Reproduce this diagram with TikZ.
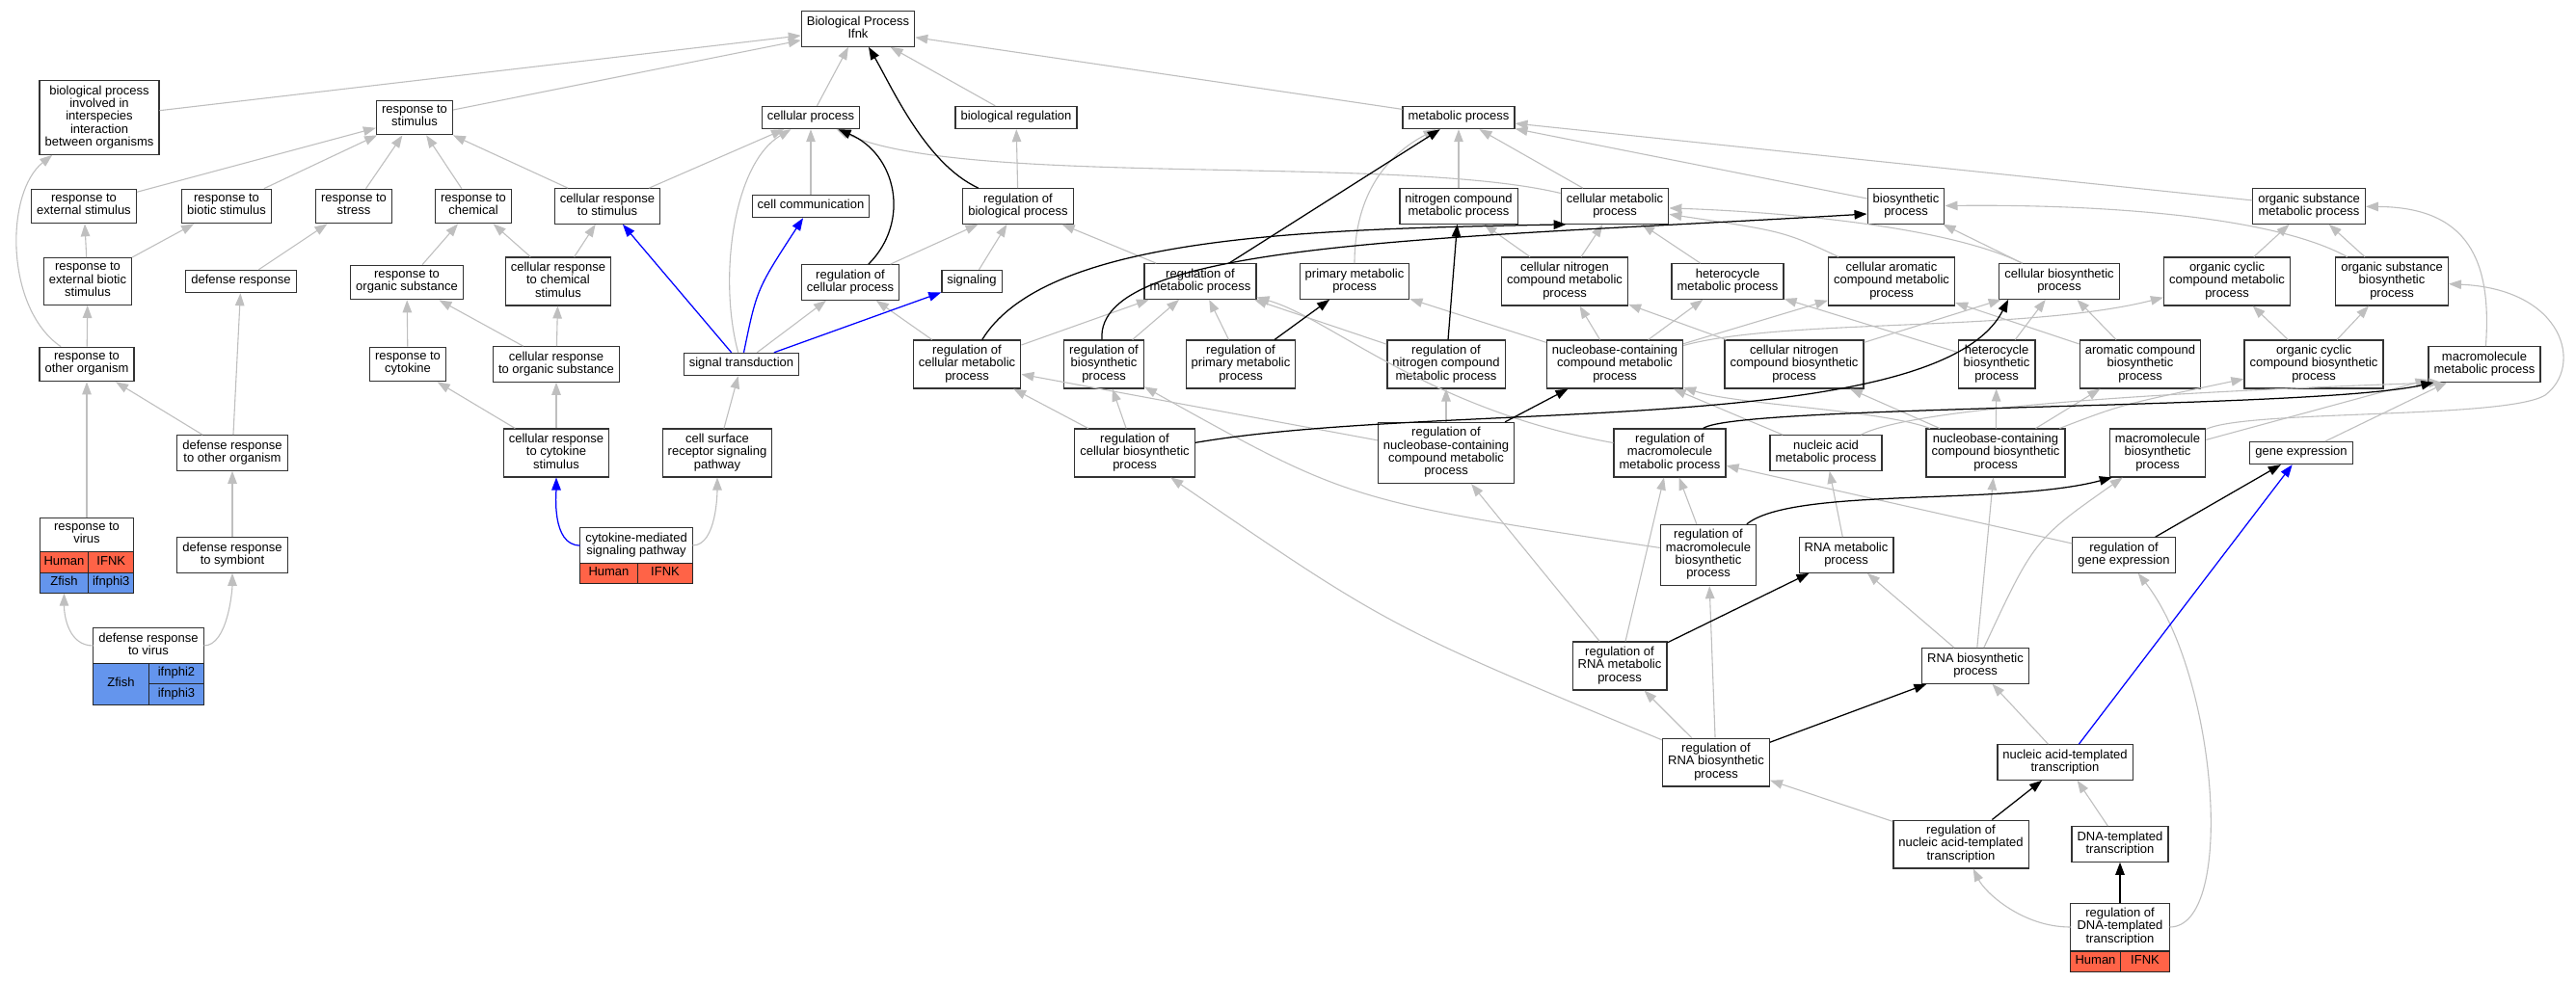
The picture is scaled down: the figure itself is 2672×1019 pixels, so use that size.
\documentclass[tikz,border=0pt]{standalone}
\usepackage{fontspec}
\setmainfont{Liberation Sans}
\usetikzlibrary{arrows.meta,positioning}
\definecolor{tomato}{HTML}{FF6347}
\definecolor{cornflower}{HTML}{6495ED}

\begin{document}
\begin{tikzpicture}[x=1pt,y=-1pt,>={Triangle[length=13pt,width=9.5pt]},
    term node/.style={rectangle,draw=black!80,line width=1.3pt,fill=white,align=center,
      font=\fontsize{13}{13.3}\selectfont,inner xsep=5.5pt,inner ysep=4.85pt,
      execute at begin node=\strut,execute at end node=\strut},
    gene cell/.style={rectangle,draw=black!85,line width=1.3pt,anchor=north west,
      font=\fontsize{13}{13.3}\selectfont,inner sep=0pt,outer sep=0pt,
      minimum height=21.5,execute at begin node=\strut},
    human cell/.style={gene cell,fill=tomato},
    zfish cell/.style={gene cell,fill=cornflower},
    gray edge/.style={->,color=black!25,line width=1.1pt},
    black edge/.style={->,color=black,line width=1.25pt},
    blue edge/.style={->,color=blue,line width=1.25pt}]

  \useasboundingbox (0,0) rectangle (2672,1019);

  \node[term node] (bp) at (890,30) {Biological Process\\Ifnk};
  \node[term node] (bpinter) at (103,122) {biological process\\involved in\\interspecies\\interaction\\between organisms};
  \node[term node] (rstim) at (430,122) {response to\\stimulus};
  \node[term node] (cellproc) at (841,122) {cellular process};
  \node[term node] (bioreg) at (1054,122) {biological regulation};
  \node[term node] (metproc) at (1513,122) {metabolic process};

  \node[term node] (rext) at (87,214) {response to\\external stimulus};
  \node[term node] (rbiot) at (235,214) {response to\\biotic stimulus};
  \node[term node] (rstress) at (367,214) {response to\\stress};
  \node[term node] (rchem) at (491,214) {response to\\chemical};
  \node[term node] (crstim) at (630,214) {cellular response\\to stimulus};
  \node[term node] (cellcomm) at (841,214) {cell communication};
  \node[term node] (regbio) at (1056,214) {regulation of\\biological process};
  \node[term node] (nitro) at (1513,214) {nitrogen compound\\metabolic process};
  \node[term node] (cellmet) at (1675,214) {cellular metabolic\\process};
  \node[term node] (biosyn) at (1977,214) {biosynthetic\\process};
  \node[term node] (orgsub) at (2395,214) {organic substance\\metabolic process};

  \node[term node] (rextbio) at (91,292) {response to\\external biotic\\stimulus};
  \node[term node] (defresp) at (250,292) {defense response};
  \node[term node] (rorgsub) at (422,293) {response to\\organic substance};
  \node[term node] (crchem) at (579,292) {cellular response\\to chemical\\stimulus};
  \node[term node] (regcell) at (882,293) {regulation of\\cellular process};
  \node[term node] (signaling) at (1008,292) {signaling};
  \node[term node] (regmet) at (1245,292) {regulation of\\metabolic process};
  \node[term node] (primmet) at (1405,292) {primary metabolic\\process};
  \node[term node] (cellnitro) at (1623,292) {cellular nitrogen\\compound metabolic\\process};
  \node[term node] (heteromet) at (1792,292) {heterocycle\\metabolic process};
  \node[term node] (cellarom) at (1962,292) {cellular aromatic\\compound metabolic\\process};
  \node[term node] (cellbio) at (2136,292) {cellular biosynthetic\\process};
  \node[term node] (orgcyc) at (2310,292) {organic cyclic\\compound metabolic\\process};
  \node[term node] (orgsubbio) at (2481,292) {organic substance\\biosynthetic\\process};

  \node[term node] (rother) at (90,378) {response to\\other organism};
  \node[term node] (rcyto) at (423,378) {response to\\cytokine};
  \node[term node] (crorg) at (577,378) {cellular response\\to organic substance};
  \node[term node] (sigtrans) at (769,378) {signal transduction};
  \node[term node] (regcellmet) at (1003,378) {regulation of\\cellular metabolic\\process};
  \node[term node] (regbiosyn) at (1145,378) {regulation of\\biosynthetic\\process};
  \node[term node] (regprim) at (1287,378) {regulation of\\primary metabolic\\process};
  \node[term node] (regnitro) at (1500,378) {regulation of\\nitrogen compound\\metabolic process};
  \node[term node] (nucmet) at (1675,378) {nucleobase-containing\\compound metabolic\\process};
  \node[term node] (cellnitrobio) at (1861,378) {cellular nitrogen\\compound biosynthetic\\process};
  \node[term node] (heterobio) at (2071,378) {heterocycle\\biosynthetic\\process};
  \node[term node] (arombio) at (2220,378) {aromatic compound\\biosynthetic\\process};
  \node[term node] (orgcycbio) at (2400,378) {organic cyclic\\compound biosynthetic\\process};
  \node[term node] (macromet) at (2577,378) {macromolecule\\metabolic process};

  \node[term node] (defother) at (241,470) {defense response\\to other organism};
  \node[term node] (crcyto) at (577,470) {cellular response\\to cytokine\\stimulus};
  \node[term node] (cellsurf) at (744,470) {cell surface\\receptor signaling\\pathway};
  \node[term node] (regcellbio) at (1177,470) {regulation of\\cellular biosynthetic\\process};
  \node[term node] (regnuc) at (1500,470) {regulation of\\nucleobase-containing\\compound metabolic\\process};
  \node[term node] (regmacro) at (1732,470) {regulation of\\macromolecule\\metabolic process};
  \node[term node] (nucacid) at (1894,470) {nucleic acid\\metabolic process};
  \node[term node] (nucbio) at (2070,470) {nucleobase-containing\\compound biosynthetic\\process};
  \node[term node] (macrobio) at (2238,470) {macromolecule\\biosynthetic\\process};
  \node[term node] (geneexp) at (2387,470) {gene expression};

  \node[term node,minimum width=97.5,outer sep=0pt] (rvirus) at (90,555) {response to\\virus};
  \node[human cell,minimum width=50.5] (rvirusH) at (rvirus.south west) {Human};
  \node[human cell,minimum width=47] (rvirusI) at (rvirusH.north east) {IFNK};
  \node[zfish cell,minimum width=50.5] (rvirusZ) at (rvirusH.south west) {Zfish};
  \node[zfish cell,minimum width=47] (rvirusG) at (rvirusZ.north east) {ifnphi3};

  \node[term node] (defsym) at (241,576) {defense response\\to symbiont};

  \node[term node,minimum width=117,outer sep=0pt] (cytomed) at (660,566) {cytokine-mediated\\signaling pathway};
  \node[human cell,minimum width=60] (cytomedH) at (cytomed.south west) {Human};
  \node[human cell,minimum width=57] (cytomedI) at (cytomedH.north east) {IFNK};

  \node[term node] (regmacrobio) at (1772,576) {regulation of\\macromolecule\\biosynthetic\\process};
  \node[term node] (rnamet) at (1915,576) {RNA metabolic\\process};
  \node[term node] (reggene) at (2203,576) {regulation of\\gene expression};

  \node[term node,minimum width=115,outer sep=0pt] (defvirus) at (154,670) {defense response\\to virus};
  \node[zfish cell,minimum width=58,minimum height=43] (defvirusZ) at (defvirus.south west) {Zfish};
  \node[zfish cell,minimum width=57] (defvirusA) at (defvirusZ.north east) {ifnphi2};
  \node[zfish cell,minimum width=57] (defvirusB) at (defvirusA.south west) {ifnphi3};

  \node[term node] (regrna) at (1680,691) {regulation of\\RNA metabolic\\process};
  \node[term node] (rnabio) at (2049,691) {RNA biosynthetic\\process};
  \node[term node] (nactrans) at (2142,791) {nucleic acid-templated\\transcription};
  \node[term node] (regrnabio) at (1780,791) {regulation of\\RNA biosynthetic\\process};
  \node[term node] (regnac) at (2034,876) {regulation of\\nucleic acid-templated\\transcription};
  \node[term node] (dnatrans) at (2199,876) {DNA-templated\\transcription};

  \node[term node,minimum width=103,outer sep=0pt] (regdna) at (2199,962) {regulation of\\DNA-templated\\transcription};
  \node[human cell,minimum width=52] (regdnaH) at (regdna.south west) {Human};
  \node[human cell,minimum width=51] (regdnaI) at (regdnaH.north east) {IFNK};

  \path[gray edge]
    (bpinter) edge (bp)
    (rstim) edge (bp)
    (cellproc) edge (bp)
    (bioreg) edge (bp)
    (metproc) edge (bp)
    (rext) edge (rstim)
    (rbiot) edge (rstim)
    (rstress) edge (rstim)
    (rchem) edge (rstim)
    (crstim) edge (rstim)
             edge (cellproc)
    (rextbio) edge (rext)
              edge (rbiot)
    (defresp) edge (rstress)
    (rorgsub) edge (rchem)
    (crchem) edge (rchem)
             edge (crstim)
    (rother) edge (rextbio)
    (defother) edge (rother)
               edge (defresp)
    (rvirus) edge (rother)
    (defsym) edge (defother)
    (rcyto) edge (rorgsub)
    (crorg) edge (rorgsub)
            edge (crchem)
    (crcyto) edge (rcyto)
             edge (crorg)
    (cellsurf) edge (sigtrans)
    (sigtrans) edge (regcell)
    (cellcomm) edge (cellproc)
    (regcell) edge (regbio)
    (signaling) edge (regbio)
    (regbio) edge (bioreg)
    (regcellmet) edge (regcell)
                 edge (regmet)
    (regbiosyn) edge (regmet)
    (regcellbio) edge (regbiosyn)
                 edge (regcellmet)
    (regprim) edge (regmet)
    (regnitro) edge (regmet)
    (regmet) edge (regbio)
    (nitro) edge (metproc)
    (cellmet) edge (metproc)
    (biosyn) edge (metproc)
    (orgsub) edge (metproc)
    (cellnitro) edge (nitro)
                edge (cellmet)
    (heteromet) edge (cellmet)
    (cellbio) edge (biosyn)
    (orgcyc) edge (orgsub)
    (orgsubbio) edge (orgsub)
    (regnuc) edge (regnitro)
             edge (regcellmet)
    (regmacrobio) edge (regmacro)
    (regrna) edge (regmacro)
             edge (regnuc)
    (regrnabio) edge (regrna)
                edge (regmacrobio)
    (regnac) edge (regrnabio)
    (dnatrans) edge (nactrans)
    (nactrans) edge (rnabio)
    (rnabio) edge (rnamet)
             edge (nucbio)
    (rnamet) edge (nucacid)
    (reggene) edge (regmacro)
    (geneexp) edge (macromet)
    (nucacid) edge (nucmet)
    (macrobio) edge (macromet)
    (nucbio) edge (cellnitrobio)
             edge (heterobio)
             edge (arombio)
    (heterobio) edge (heteromet)
                edge (cellbio)
    (arombio) edge (cellarom)
              edge (cellbio)
    (orgcycbio) edge (orgcyc)
                edge (orgsubbio)
    (cellnitrobio) edge (cellnitro)
                   edge (cellbio)
    (nucmet) edge (cellnitro)
             edge (heteromet)
             edge (primmet)
             edge (cellarom);

  \draw[gray edge] (rother) .. controls (5,320) and (5,200) .. (bpinter);
  \draw[gray edge] (defvirus.west) .. controls +(-25,0) and +(0,35) .. (rvirusZ);
  \draw[gray edge] (defvirus.east) .. controls +(25,0) and +(0,35) .. (defsym);
  \draw[gray edge] (cytomed.east) .. controls +(25,0) and +(0,40) .. (cellsurf);
  \draw[gray edge] (sigtrans) .. controls (745,290) and (760,170) .. (cellproc);
  \draw[gray edge] (cellmet) .. controls (1450,160) and (1000,195) .. (cellproc);
  \draw[gray edge] (primmet) .. controls (1405,200) and (1440,160) .. (metproc);
  \draw[gray edge] (regmacrobio) .. controls (1400,520) .. (regbiosyn);
  \draw[gray edge] (cellarom) .. controls (1850,240) .. (cellmet);
  \draw[gray edge] (cellbio) .. controls (2020,235) and (1850,220) .. (cellmet);
  \draw[gray edge] (orgsubbio) .. controls (2350,220) and (2150,212) .. (biosyn);
  \draw[gray edge] (macromet) .. controls (2585,270) and (2560,215) .. (orgsub);
  \draw[gray edge] (regmacro) .. controls (1480,425) and (1380,330) .. (regmet);
  \draw[gray edge] (regrnabio) .. controls (1440,650) .. (regcellbio);
  \draw[gray edge] (regdna.west) .. controls +(-50,0) and +(25,50) .. (regnac);
  \draw[gray edge] (regdna.east) .. controls (2320,962) and (2300,700) .. (reggene);
  \draw[gray edge] (rnabio) .. controls (2110,560) .. (macrobio);
  \draw[gray edge] (nucacid) .. controls (1990,420) and (2300,405) .. ([xshift=14pt]macromet.south west);
  \draw[gray edge] (nucbio) .. controls (1950,425) and (1800,420) .. (nucmet);
  \draw[gray edge] (nucbio) .. controls (2200,420) .. (orgcycbio);
  \draw[gray edge] (nucmet) .. controls (1850,330) and (2100,345) .. (orgcyc);
  \draw[gray edge] (macrobio) .. controls (2330,425) and (2600,435) .. (2640,410)
                   .. controls (2680,380) and (2660,300) .. (orgsubbio);

  \path[black edge]
    (regmet) edge (metproc)
    (regprim) edge (primmet)
    (regnitro) edge (nitro)
    (regnuc) edge (nucmet)
    (regrna) edge (rnamet)
    (regrnabio) edge (rnabio)
    (regnac) edge (nactrans)
    (regdna) edge (dnatrans)
    (reggene) edge (geneexp);

  \draw[black edge] (regbio) .. controls (960,170) and (925,90) .. (bp);
  \draw[black edge] (regcell) .. controls (945,230) and (930,160) .. (cellproc);
  \draw[black edge] (regcellmet) .. controls (1085,245) and (1350,238) .. ([xshift=6pt]cellmet.south west);
  \draw[black edge] (regbiosyn) .. controls (1135,250) and (1500,248) .. ([yshift=-8pt]biosyn.west);
  \draw[black edge] (regcellbio) .. controls (1500,415) and (2010,455) .. ([xshift=10pt]cellbio.south west);
  \draw[black edge] (regmacro) .. controls (1800,420) and (2400,425) .. ([xshift=6pt]macromet.south west);
  \draw[black edge] (regmacrobio) .. controls (1860,505) and (2080,525) .. ([xshift=3pt]macrobio.south west);

  \path[blue edge]
    (sigtrans) edge (crstim)
               edge (signaling)
    (nactrans) edge (geneexp);

  \draw[blue edge] (sigtrans) .. controls (785,300) .. (cellcomm);
  \draw[blue edge] (cytomed.west) .. controls +(-30,0) and +(0,40) .. (crcyto);

\end{tikzpicture}
\end{document}
